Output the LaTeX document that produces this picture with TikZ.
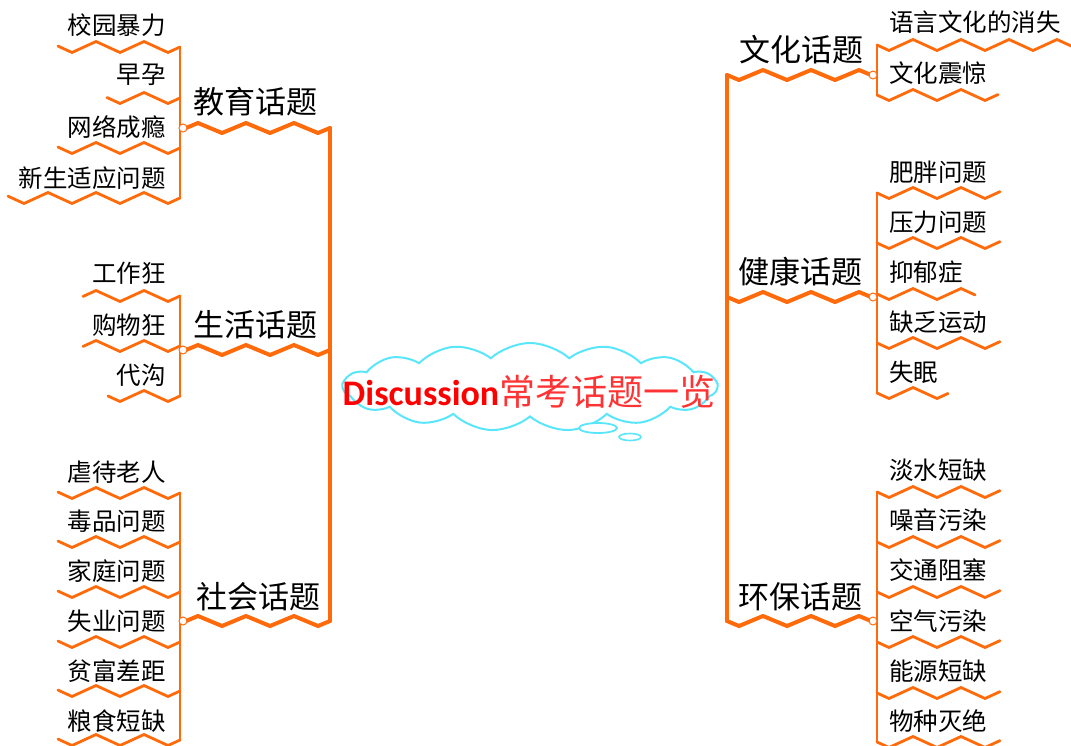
\documentclass[tikz,border=0pt]{standalone}
\usepackage{fontspec}
\setmainfont{Noto Sans CJK SC}
\newfontfamily\carlito{Carlito}
\usetikzlibrary{shapes.symbols}
\definecolor{br}{RGB}{255,106,10}
\definecolor{cl}{RGB}{90,230,250}
% zigzag: #1 style, #2 start coordinate, #3 direction (+1/-1), #4 length, #5 amplitude
\newcommand\zz[5]{%
  \pgfmathtruncatemacro\zzn{floor((#4-12)/24)}%
  \pgfmathsetmacro\zzr{#4-12-24*\zzn}%
  \pgfmathsetmacro\zzdy{-2*#5*(1-2*mod(\zzn,2))*\zzr/24}%
  \draw[#1] (#2) -- ++({#3*12},{#5})
    \foreach \k in {1,...,\zzn}{ -- ++({#3*24},{2*#5*(1-2*mod(\k,2))}) }
    -- ++({#3*\zzr},{\zzdy});%
}
\begin{document}
\begin{tikzpicture}[x=1pt,y=-1pt,
  mainline/.style={draw=br,line width=4pt,line cap=round,line join=round},
  subline/.style={draw=br,line width=2.8pt,line cap=round,line join=round},
  subtxt/.style={font=\fontsize{24.5}{26}\selectfont,inner sep=0pt},
  maintxt/.style={font=\fontsize{31}{33}\selectfont,inner sep=0pt},
  knob/.style={circle,draw=br,fill=white,line width=1pt,minimum size=8pt,inner sep=0pt}]
\useasboundingbox (0,0) rectangle (1071,745);

% ---------- centre ----------
\node[cloud, cloud puffs=15, cloud puff arc=85, cloud ignores aspect,
      minimum width=374pt, minimum height=88pt, draw=cl, line width=2pt] (cloudn) at (530,387) {};
\draw[cl, line width=1.8pt, fill=white] (598,428) ellipse [x radius=19pt, y radius=5pt];
\draw[cl, line width=1.6pt, fill=white] (630,437) ellipse [x radius=11pt, y radius=3.5pt];
\node[inner sep=0pt] (title) at (529,392)
  {\fontsize{36}{40}\selectfont{\carlito\bfseries\color{red}Discussion}{\color{red!80!white}常考话题一览}};

% ---------- left trunk ----------
\coordinate (L1) at (330,128);
\coordinate (L2) at (330,350);
\coordinate (L3) at (330,621);
\draw[mainline] (L1) -- (L3);
\zz{mainline}{L1}{-1}{147}{5}
\zz{mainline}{L2}{-1}{147}{5}
\zz{mainline}{L3}{-1}{147}{5}
\node[maintxt] (edu) at (255,102) {教育话题};
\node[maintxt] (life) at (255,325) {生活话题};
\node[maintxt] (soc) at (258,597) {社会话题};

% education subs
\coordinate (e1) at (180,47);
\coordinate (e2) at (180,98);
\coordinate (e3) at (180,148);
\coordinate (e4) at (180,198);
\draw[subline] (e1) -- (e4);
\zz{subline}{e1}{-1}{122}{5.5}
\zz{subline}{e2}{-1}{73}{5.5}
\zz{subline}{e3}{-1}{122}{5.5}
\zz{subline}{e4}{-1}{172}{5.5}
\node[subtxt, anchor=east] (e1t) at (166,25) {校园暴力};
\node[subtxt, anchor=east] (e2t) at (166,75) {早孕};
\node[subtxt, anchor=east] (e3t) at (166,127) {网络成瘾};
\node[subtxt, anchor=east] (e4t) at (166,178) {新生适应问题};
\node[knob] (k1) at (183,128) {};

% life subs
\coordinate (s1) at (180,296);
\coordinate (s2) at (180,346);
\coordinate (s3) at (180,396);
\draw[subline] (s1) -- (s3);
\zz{subline}{s1}{-1}{97}{5.5}
\zz{subline}{s2}{-1}{97}{5.5}
\zz{subline}{s3}{-1}{72}{5.5}
\node[subtxt, anchor=east] (s1t) at (166,273) {工作狂};
\node[subtxt, anchor=east] (s2t) at (166,325) {购物狂};
\node[subtxt, anchor=east] (s3t) at (166,375) {代沟};
\node[knob] (k2) at (183,350) {};

% society subs
\coordinate (o1) at (180,493);
\coordinate (o2) at (180,542);
\coordinate (o3) at (180,592);
\coordinate (o4) at (180,642);
\coordinate (o5) at (180,691);
\coordinate (o6) at (180,740);
\draw[subline] (o1) -- (o6);
\foreach \c in {o1,o2,o3,o4,o5,o6}{\zz{subline}{\c}{-1}{122}{5.5}}
\node[subtxt, anchor=east] (o1t) at (166,472) {虐待老人};
\node[subtxt, anchor=east] (o2t) at (166,521) {毒品问题};
\node[subtxt, anchor=east] (o3t) at (166,571) {家庭问题};
\node[subtxt, anchor=east] (o4t) at (166,621) {失业问题};
\node[subtxt, anchor=east] (o5t) at (166,671) {贫富差距};
\node[subtxt, anchor=east] (o6t) at (166,721) {粮食短缺};
\node[knob] (k3) at (183,621) {};

% ---------- right trunk ----------
\coordinate (R1) at (727,75);
\coordinate (R2) at (727,297);
\coordinate (R3) at (727,621);
\draw[mainline] (R1) -- (R3);
\zz{mainline}{R1}{1}{146}{5}
\zz{mainline}{R2}{1}{146}{5}
\zz{mainline}{R3}{1}{146}{5}
\node[maintxt] (cul) at (801,50) {文化话题};
\node[maintxt] (hea) at (800,272) {健康话题};
\node[maintxt] (env) at (800,597) {环保话题};

% culture subs
\coordinate (c1) at (877,45);
\coordinate (c2) at (877,95);
\draw[subline] (c1) -- (c2);
\zz{subline}{c1}{1}{200}{5.5}
\zz{subline}{c2}{1}{121}{5.5}
\node[subtxt, anchor=west] (c1t) at (889,22) {语言文化的消失};
\node[subtxt, anchor=west] (c2t) at (889,73) {文化震惊};
\node[knob] (k4) at (873,75) {};

% health subs
\coordinate (h1) at (877,193);
\coordinate (h2) at (877,243);
\coordinate (h3) at (877,294);
\coordinate (h4) at (877,343);
\coordinate (h5) at (877,393);
\draw[subline] (h1) -- (h5);
\zz{subline}{h1}{1}{123}{5.5}
\zz{subline}{h2}{1}{123}{5.5}
\zz{subline}{h3}{1}{98}{5.5}
\zz{subline}{h4}{1}{123}{5.5}
\zz{subline}{h5}{1}{71}{5.5}
\node[subtxt, anchor=west] (h1t) at (889,172) {肥胖问题};
\node[subtxt, anchor=west] (h2t) at (889,222) {压力问题};
\node[subtxt, anchor=west] (h3t) at (889,272) {抑郁症};
\node[subtxt, anchor=west] (h4t) at (889,322) {缺乏运动};
\node[subtxt, anchor=west] (h5t) at (889,372) {失眠};
\node[knob] (k5) at (873,297) {};

% environment subs
\coordinate (v1) at (877,492);
\coordinate (v2) at (877,542);
\coordinate (v3) at (877,592);
\coordinate (v4) at (877,642);
\coordinate (v5) at (877,693);
\coordinate (v6) at (877,742);
\draw[subline] (v1) -- (v6);
\foreach \c in {v1,v2,v3,v4,v5,v6}{\zz{subline}{\c}{1}{123}{5.5}}
\node[subtxt, anchor=west] (v1t) at (889,470) {淡水短缺};
\node[subtxt, anchor=west] (v2t) at (889,520) {噪音污染};
\node[subtxt, anchor=west] (v3t) at (889,570) {交通阻塞};
\node[subtxt, anchor=west] (v4t) at (889,621) {空气污染};
\node[subtxt, anchor=west] (v5t) at (889,671) {能源短缺};
\node[subtxt, anchor=west] (v6t) at (889,721) {物种灭绝};
\node[knob] (k6) at (873,621) {};
\end{tikzpicture}
\end{document}
